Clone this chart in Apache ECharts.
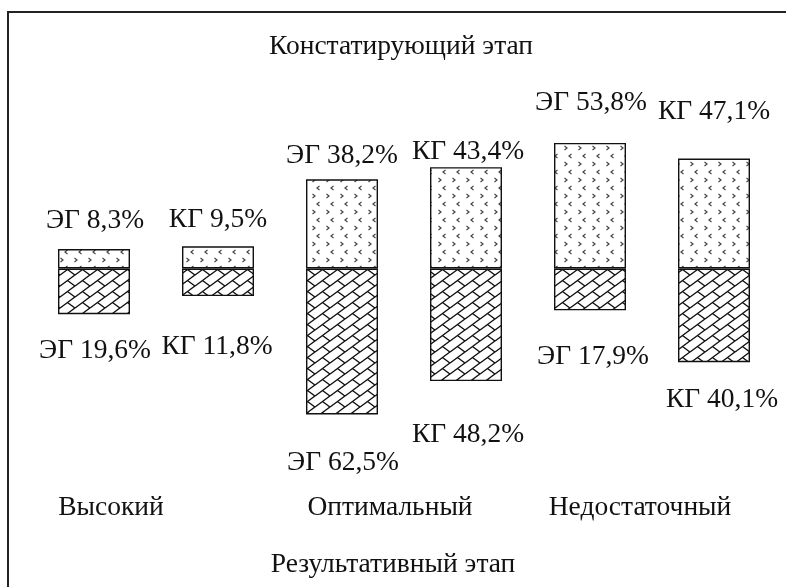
<!DOCTYPE html>
<html>
<head>
<meta charset="utf-8">
<script src="https://cdn.jsdelivr.net/npm/echarts@6/dist/echarts.min.js"></script>
<style>
html,body{margin:0;padding:0;background:#fff;}
#chart{width:786px;height:587px;}
</style>
</head>
<body>
<div id="chart"></div>
<script>
// ---- data ----
const levels = ['Высокий', 'Оптимальный', 'Недостаточный'];
const barGroups = ['ЭГ', 'КГ', 'ЭГ', 'КГ', 'ЭГ', 'КГ'];
const barCategories = ['Высокий ЭГ', 'Высокий КГ', 'Оптимальный ЭГ', 'Оптимальный КГ', 'Недостаточный ЭГ', 'Недостаточный КГ'];
const stageTop = 'Констатирующий этап';
const stageBottom = 'Результативный этап';
const constatValues = [8.3, 9.5, 38.2, 43.4, 53.8, 47.1];
const resultValues = [19.6, 11.8, 62.5, 48.2, 17.9, 40.1];

// ---- layout (not data) ----
const upGap = [28, 27, 24, 15, 40, 47];
const upDx = [1, 0, 0, 2, 1, 0];
const downGap = [37, 51, 48, 54, 46, 38];
const downDx = [1, -1, 1, 2, 3, 8];
const FONT = 'Liberation Serif, Times New Roman, serif';
const FS = 27.5;

function fmt(v) { return String(v).replace('.', ','); }

function brickPattern() {
  const W = 15, H = 11;
  const c = document.createElement('canvas');
  c.width = W; c.height = H;
  const ctx = c.getContext('2d');
  ctx.fillStyle = '#fff';
  ctx.fillRect(0, 0, W, H);
  ctx.strokeStyle = '#111';
  ctx.lineWidth = 1.4;
  for (let ox = -W; ox <= W; ox += W) {
    for (let oy = -H; oy <= H; oy += H) {
      ctx.beginPath();
      ctx.moveTo(ox, oy + H); ctx.lineTo(ox + W, oy);
      ctx.moveTo(ox + W / 2, oy + H / 2); ctx.lineTo(ox + W, oy + H);
      ctx.stroke();
    }
  }
  return c;
}

function dotPattern() {
  const W = 14, H = 16;
  const c = document.createElement('canvas');
  c.width = W; c.height = H;
  const ctx = c.getContext('2d');
  ctx.fillStyle = '#fff';
  ctx.fillRect(0, 0, W, H);
  ctx.strokeStyle = '#444';
  ctx.lineWidth = 1.2;
  ctx.beginPath();
  ctx.moveTo(4.5, 2); ctx.lineTo(7, 4); ctx.lineTo(4.5, 6);
  ctx.stroke();
  ctx.beginPath();
  ctx.moveTo(11.5, 10); ctx.lineTo(9, 12); ctx.lineTo(11.5, 14);
  ctx.stroke();
  return c;
}

const brick = { image: brickPattern(), repeat: 'repeat' };
const dots = { image: dotPattern(), repeat: 'repeat' };

const labelBase = {
  show: true,
  fontFamily: FONT,
  fontSize: FS,
  lineHeight: FS,
  color: '#111'
};

const upData = constatValues.map((v, i) => ({
  value: v,
  label: Object.assign({}, labelBase, {
    position: 'top',
    distance: upGap[i] - FS / 2,
    offset: [upDx[i], 0],
    formatter: barGroups[i] + ' ' + fmt(v) + '%'
  })
}));
const downData = resultValues.map((v, i) => ({
  value: -v,
  label: Object.assign({}, labelBase, {
    position: 'bottom',
    distance: downGap[i] - FS / 2,
    offset: [downDx[i], 0],
    formatter: barGroups[i] + ' ' + fmt(v) + '%'
  })
}));

const chart = echarts.init(document.getElementById('chart'), null, { renderer: 'canvas' });

const textStyle = (t) => ({ text: t, font: FS + 'px ' + FONT, fill: '#111', textAlign: 'center', textVerticalAlign: 'middle' });

chart.setOption({
  animation: false,
  backgroundColor: '#fff',
  grid: { left: 32, right: 10, top: 128.4, bottom: 155.05 },
  xAxis: {
    type: 'category',
    data: barCategories,
    show: false
  },
  yAxis: {
    type: 'value',
    min: -70,
    max: 60,
    show: false
  },
  series: [
    {
      name: stageTop,
      type: 'bar',
      data: upData,
      barWidth: 72,
      barGap: '-100%',
      itemStyle: { color: dots, borderColor: '#111', borderWidth: 1.4 }
    },
    {
      name: stageBottom,
      type: 'bar',
      data: downData,
      barWidth: 72,
      itemStyle: { color: brick, borderColor: '#111', borderWidth: 1.4 }
    }
  ],
  graphic: [
    { type: 'rect', shape: { x: 8, y: 12, width: 800, height: 600 }, style: { fill: 'none', stroke: '#222', lineWidth: 2 }, z: 100 },
    { type: 'text', x: 401, y: 47, style: textStyle(stageTop) },
    { type: 'text', x: 393, y: 565, style: textStyle(stageBottom) },
    { type: 'text', x: 111, y: 508, style: textStyle(levels[0]) },
    { type: 'text', x: 390, y: 508, style: textStyle(levels[1]) },
    { type: 'text', x: 640, y: 508, style: textStyle(levels[2]) }
  ]
});
</script>
</body>
</html>
